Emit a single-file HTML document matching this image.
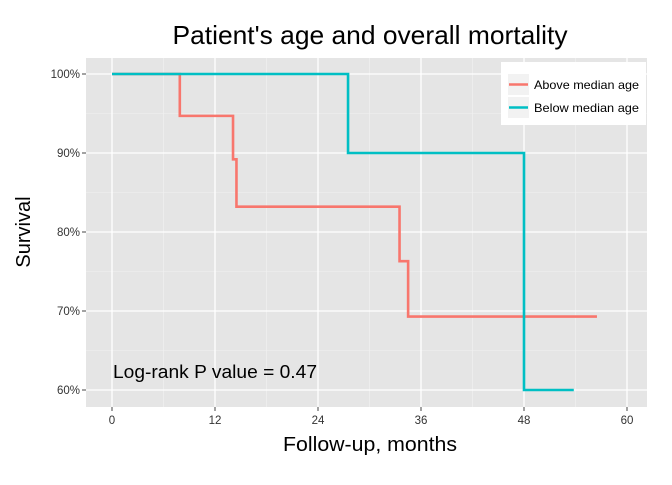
<!DOCTYPE html>
<html><head><meta charset="utf-8"><style>
body{margin:0;background:#fff}
svg text{font-family:"Liberation Sans",sans-serif}
</style></head><body>
<svg width="672" height="480">
<rect x="0" y="0" width="672" height="480" fill="#fff"/>
<g id="plot"></g>
</svg>
<script>
const xTicks=[0,12,24,36,48,60];
const yTicks=[60,70,80,90,100];
const aboveT=[0,7.9,14.1,14.5,33.5,34.5,56.5];
const aboveS=[100,94.7,89.2,83.2,76.3,69.3,69.3];
const belowT=[0,27.5,48,53.8];
const belowS=[100,90,60,60];
const L=86,R=647,T=58,B=407;
const sx=v=>112+v*(627-112)/60;
const sy=v=>390-(v-60)*(390-74)/40;
const ns="http://www.w3.org/2000/svg";
const g=document.getElementById('plot');
function mk(t,a,p){const e=document.createElementNS(ns,t);for(const k in a)e.setAttribute(k,a[k]);(p||g).appendChild(e);return e;}
const panel=mk('rect',{x:L,y:T,width:R-L,height:B-T,fill:'#e5e5e5'});


for(let i=0;i<xTicks.length-1;i++){const v=(xTicks[i]+xTicks[i+1])/2;mk('line',{x1:sx(v),x2:sx(v),y1:T,y2:B,stroke:'#f2f2f2','stroke-width':0.6});}
for(let i=0;i<yTicks.length-1;i++){const v=(yTicks[i]+yTicks[i+1])/2;mk('line',{x1:L,x2:R,y1:sy(v),y2:sy(v),stroke:'#f2f2f2','stroke-width':0.6});}
xTicks.forEach(v=>{const x=sx(v);
const gl=mk('line',{x1:x,x2:x,y1:T,y2:B,stroke:'#fff','stroke-width':1.3});


mk('line',{x1:x,x2:x,y1:B,y2:B+4,stroke:'#444','stroke-width':1});
const t=mk('text',{x:x,y:B+17,'text-anchor':'middle','font-size':11.5,fill:'#333'});t.textContent=v;

});
yTicks.forEach(v=>{const y=sy(v);
const gl=mk('line',{x1:L,x2:R,y1:y,y2:y,stroke:'#fff','stroke-width':1.3});


mk('line',{x1:L-4,x2:L,y1:y,y2:y,stroke:'#444','stroke-width':1});
const t=mk('text',{x:L-6,y:y+4,'text-anchor':'end','font-size':11.5,fill:'#333'});t.textContent=v+'%';

});
function step(ts,ss,c,name){let d='M'+sx(ts[0])+','+sy(ss[0]);for(let i=1;i<ts.length;i++){d+=' H'+sx(ts[i])+' V'+sy(ss[i]);}
const p=mk('path',{d:d,fill:'none',stroke:c,'stroke-width':2.6});

}
step(aboveT,aboveS,'#f8766d','above-median-curve');
step(belowT,belowS,'#00bfc4','below-median-curve');
const ann=mk('text',{x:113,y:378,'font-size':18,fill:'#000',textLength:204,lengthAdjust:'spacingAndGlyphs'});ann.textContent='Log-rank P value = 0.47';


const lg=mk('g',{});


mk('rect',{x:501,y:62,width:145,height:63,fill:'#fff'},lg);
[['Above median age','#f8766d'],['Below median age','#00bfc4']].forEach((e,i)=>{const y=74+i*23;
mk('rect',{x:508,y:y,width:21,height:21,fill:'#f2f2f2'},lg);
mk('line',{x1:509,x2:528,y1:y+10.5,y2:y+10.5,stroke:e[1],'stroke-width':2.6},lg);
const t=mk('text',{x:534,y:y+15,'font-size':12,fill:'#000',textLength:105,lengthAdjust:'spacingAndGlyphs'},lg);t.textContent=e[0];

});
const tt=mk('text',{x:370,y:44,'text-anchor':'middle','font-size':26,fill:'#000',textLength:395,lengthAdjust:'spacingAndGlyphs'});tt.textContent="Patient's age and overall mortality";


const xt=mk('text',{x:370,y:451,'text-anchor':'middle','font-size':20.5,fill:'#000',textLength:174,lengthAdjust:'spacingAndGlyphs'});xt.textContent='Follow-up, months';


const yt=mk('text',{x:0,y:0,'text-anchor':'middle','font-size':20,fill:'#000',transform:'translate(30,232) rotate(-90)'});yt.textContent='Survival';


</script>
</body></html>
